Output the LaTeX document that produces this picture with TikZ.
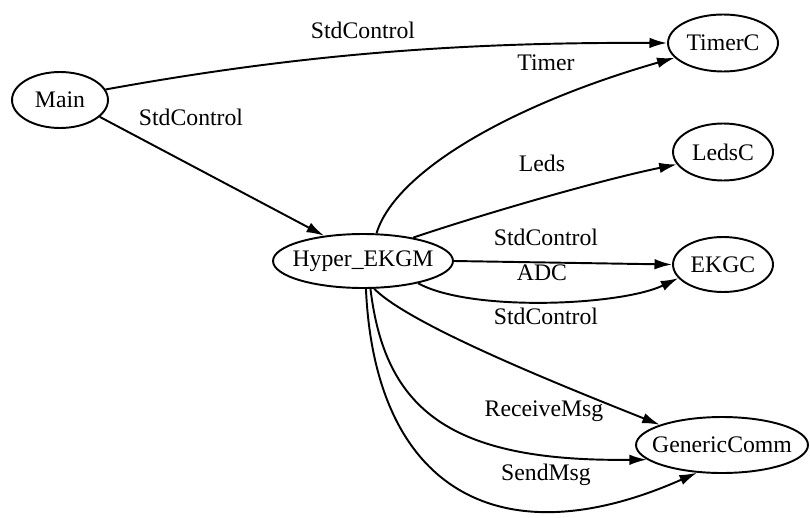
\documentclass[tikz,border=0pt]{standalone}
\usepackage{fontspec}
\setmainfont{Liberation Serif}
\usepackage{tikz}
\usetikzlibrary{shapes.geometric,arrows.meta}
\tikzset{
         comp/.style=
          {
           draw,
           ellipse,
           inner sep=0pt
          },
         edge/.style=
          {
           -{Latex[length=10pt,width=6pt]}
          }
        }

\begin{document}
\begin{tikzpicture}[x=0.02cm,y=-0.02cm,line width=1.1pt,font=\fontsize{13.5}{16}\selectfont]
\useasboundingbox (0,0) rectangle (810,517);
%components
\node[comp,minimum width=1.92cm,minimum height=1.12cm](main)at(60,100){\makebox[0pt]{Main}};
\node[comp,minimum width=2.2cm,minimum height=1.14cm](timerc)at(723,43){\makebox[0pt]{TimerC}};
\node[comp,minimum width=2cm,minimum height=1.14cm](ledsc)at(723,152){\makebox[0pt]{LedsC}};
\node[comp,minimum width=2cm,minimum height=1.1cm](ekgc)at(723,264.5){\makebox[0pt]{EKGC}};
\node[comp,minimum width=3.44cm,minimum height=1.12cm](genericcomm)at(722,445){\makebox[0pt]{GenericComm}};
\node[comp,minimum width=3.6cm,minimum height=1.08cm](hyper)at(363,261){\makebox[0pt]{Hyper\_EKGM}};
%wiring
\draw[edge](main.13) .. controls (290,56) and (450,42) .. (timerc.west);
\draw[edge](main.-23)--(hyper.147);
\draw[edge](hyper.64) .. controls (395,172) and (510,105) .. (timerc.197);
\draw[edge](hyper.25) .. controls (480,215) and (600,180) .. (ledsc.195);
\draw[edge](hyper.east)--(ekgc.west);
\draw[edge](hyper.-22) .. controls (470,312) and (620,306) .. (ekgc.197);
\draw[edge](hyper.-68) .. controls (410,325) and (560,385) .. (genericcomm.162);
\draw[edge](hyper.-75) .. controls (385,410) and (450,462) .. (genericcomm.191);
\draw[edge](hyper.-84) .. controls (375,490) and (500,560) .. (genericcomm.228);
%interface labels
\node(l1)at(363,30){StdControl};
\node(l2)at(191,117){StdControl};
\node(l3)at(546,63){Timer};
\node(l4)at(542,163){Leds};
\node(l5)at(546,237){StdControl};
\node(l6)at(542,273){ADC};
\node(l7)at(546,316){StdControl};
\node(l8)at(544,411){ReceiveMsg};
\node(l9)at(546,475){SendMsg};
\end{tikzpicture}
\end{document}
